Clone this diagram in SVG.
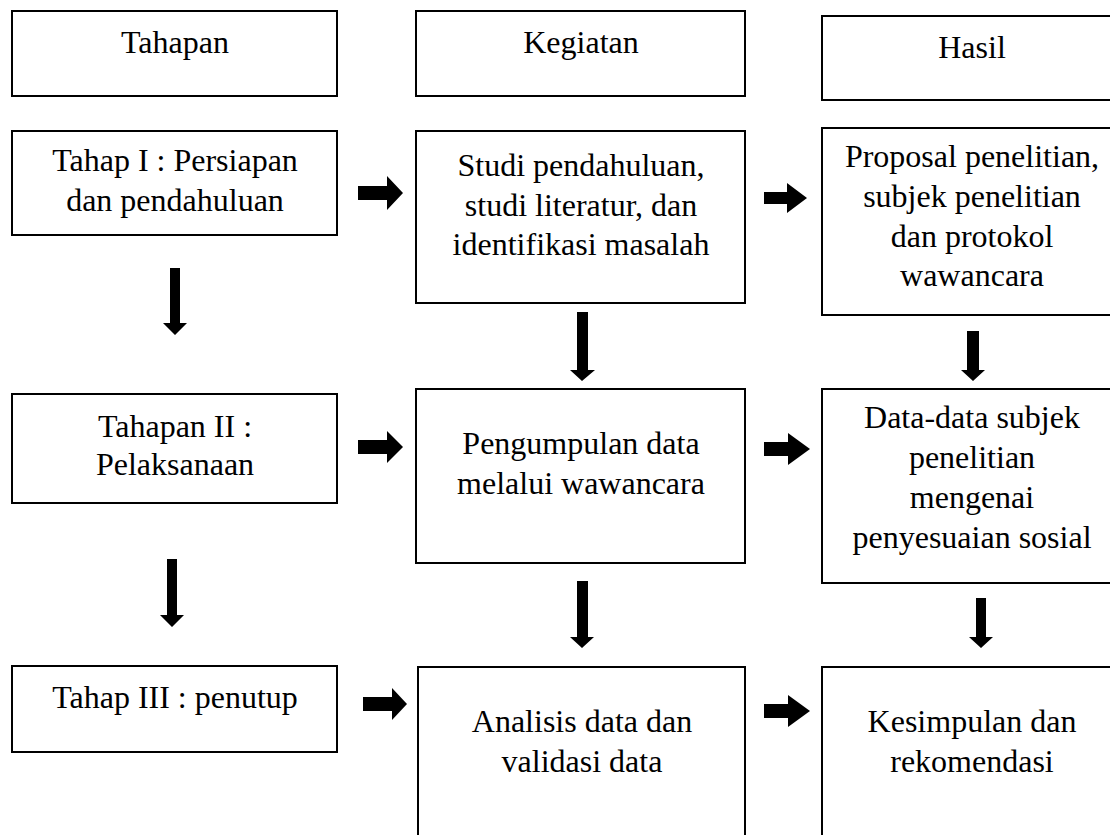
<svg xmlns="http://www.w3.org/2000/svg" width="1110" height="835" viewBox="0 0 1110 835">
<style>
.box{fill:#fff;stroke:#000;stroke-width:2}
.t{font-family:"Liberation Serif","Times New Roman",serif;font-size:32px;fill:#000;text-anchor:middle}
.arr{fill:#000;stroke:none}
</style>
<rect width="1110" height="835" fill="#fff"/>
<g id="n-tahapan"><rect class="box" x="12" y="11" width="325" height="85"/><text class="t" x="175" y="53">Tahapan</text></g>
<g id="n-kegiatan"><rect class="box" x="416" y="11" width="329" height="85"/><text class="t" x="581" y="53">Kegiatan</text></g>
<g id="n-hasil"><rect class="box" x="822" y="16" width="300" height="84"/><text class="t" x="972" y="58">Hasil</text></g>
<g id="n-tahap1"><rect class="box" x="12" y="131" width="325" height="104"/><text class="t" x="175" y="171">Tahap I : Persiapan</text><text class="t" x="175" y="211">dan pendahuluan</text></g>
<g id="n-studi"><rect class="box" x="416" y="131" width="329" height="172"/><text class="t" x="581" y="176">Studi pendahuluan,</text><text class="t" x="581" y="216">studi literatur, dan</text><text class="t" x="581" y="255">identifikasi masalah</text></g>
<g id="n-proposal"><rect class="box" x="822" y="128" width="300" height="187"/><text class="t" x="972" y="167">Proposal penelitian,</text><text class="t" x="972" y="207">subjek penelitian</text><text class="t" x="972" y="247">dan protokol</text><text class="t" x="972" y="286">wawancara</text></g>
<g id="n-tahap2"><rect class="box" x="12" y="394" width="325" height="109"/><text class="t" x="175" y="437">Tahapan II :</text><text class="t" x="175" y="475">Pelaksanaan</text></g>
<g id="n-pengumpulan"><rect class="box" x="416" y="389" width="329" height="174"/><text class="t" x="581" y="454">Pengumpulan data</text><text class="t" x="581" y="494">melalui wawancara</text></g>
<g id="n-data"><rect class="box" x="822" y="389" width="300" height="194"/><text class="t" x="972" y="428">Data-data subjek</text><text class="t" x="972" y="468">penelitian</text><text class="t" x="972" y="508">mengenai</text><text class="t" x="972" y="548">penyesuaian sosial</text></g>
<g id="n-tahap3"><rect class="box" x="12" y="666" width="325" height="86"/><text class="t" x="175" y="708">Tahap III : penutup</text></g>
<g id="n-analisis"><rect class="box" x="418" y="667" width="327" height="200"/><text class="t" x="582" y="732">Analisis data dan</text><text class="t" x="582" y="772">validasi data</text></g>
<g id="n-kesimpulan"><rect class="box" x="822" y="667" width="300" height="200"/><text class="t" x="972" y="732">Kesimpulan dan</text><text class="t" x="972" y="772">rekomendasi</text></g>
<g id="connectors">
<polygon class="arr" points="358,186 387,186 387,176 403,193 387,210 387,200 358,200"/>
<polygon class="arr" points="764,192 787,192 787,183 807,198 787,213 787,204 764,204"/>
<polygon class="arr" points="358,440 387,440 387,431 403,447 387,463 387,454 358,454"/>
<polygon class="arr" points="764,442 788,442 788,433 810,449 788,465 788,456 764,456"/>
<polygon class="arr" points="363,697 392,697 392,688 407,704 392,720 392,711 363,711"/>
<polygon class="arr" points="764,704 788,704 788,695 810,711 788,727 788,718 764,718"/>
<polygon class="arr" points="170,268 180,268 180,323 187,323 175,335 163,323 170,323"/>
<polygon class="arr" points="167,559 177,559 177,615 184,615 172,627 160,615 167,615"/>
<polygon class="arr" points="577,312 588,312 588,370 595,370 582,381 570,370 577,370"/>
<polygon class="arr" points="967,331 979,331 979,370 985,370 973,381 961,370 967,370"/>
<polygon class="arr" points="577,581 588,581 588,637 594,637 582,648 570,637 577,637"/>
<polygon class="arr" points="976,598 986,598 986,637 993,637 981,648 969,637 976,637"/>
</g>
</svg>
